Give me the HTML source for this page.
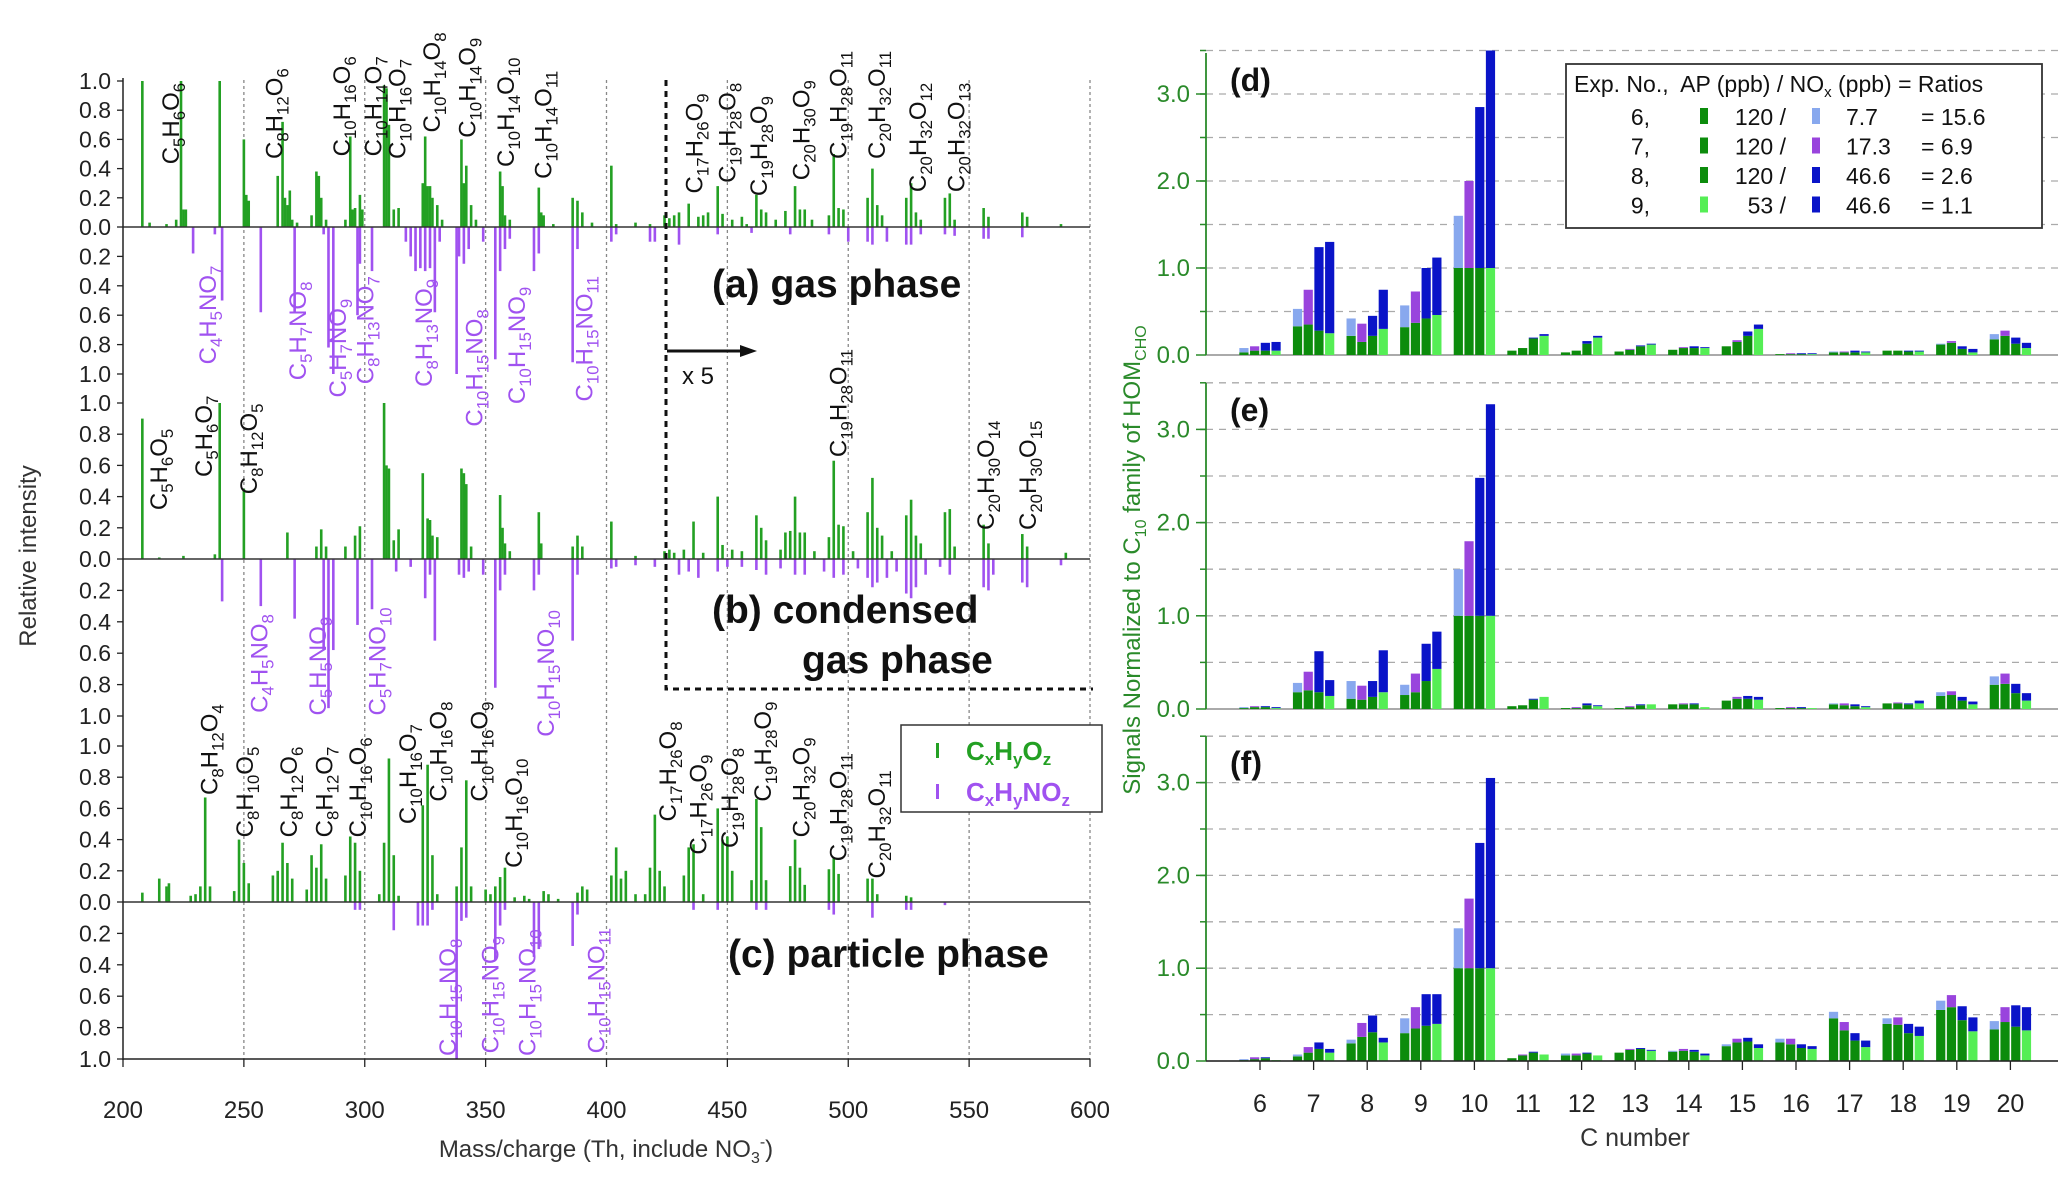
<!DOCTYPE html>
<html><head><meta charset="utf-8"><style>
html,body{margin:0;padding:0;background:#fff;}
svg{display:block;font-family:"Liberation Sans",sans-serif;}
</style></head><body>
<svg id="chart" width="2067" height="1180" viewBox="0 0 2067 1180" xmlns="http://www.w3.org/2000/svg">
<g id="left"></g>
<g id="right"></g>
</svg>
<script>
// ---------- LEFT CHART DATA ----------
const aCHOmz=[208,211,218,222,224,225,226,240,250,251,252,264,266,267,268,269,270,272,278,280,281,282,284,292,294,295,296,298,299,308,309,310,312,314,324,325,326,327,328,330,332,340,341,342,344,346,356,357,358,360,372,373,374,378,386,388,390,394,402,404,412,418,424,426,428,430,434,438,440,442,446,448,452,456,458,462,464,466,470,474,478,480,482,485,492,494,496,498,508,510,512,514,524,526,528,530,540,542,544,556,558,572,574,588];
const aCHOval=[1.0,0.03,0.02,0.05,1.0,0.12,0.12,1.0,0.6,0.22,0.18,0.35,0.72,0.2,0.15,0.25,0.05,0.03,0.08,0.38,0.35,0.2,0.05,0.05,0.62,0.12,0.13,0.22,0.12,0.97,0.95,0.7,0.12,0.13,0.3,0.62,0.28,0.28,0.2,0.15,0.05,0.6,0.3,0.42,0.15,0.05,0.38,0.28,0.08,0.05,0.27,0.1,0.08,0.02,0.2,0.18,0.1,0.03,0.42,0.02,0.03,0.02,0.08,0.06,0.08,0.1,0.16,0.07,0.08,0.1,0.28,0.09,0.05,0.07,0.02,0.22,0.12,0.1,0.05,0.11,0.28,0.12,0.12,0.05,0.08,0.5,0.13,0.12,0.2,0.4,0.15,0.08,0.2,0.3,0.1,0.05,0.2,0.23,0.05,0.13,0.07,0.1,0.07,0.02];
const aCHONmz=[229,238,241,257,271,283,285,287,297,298,303,317,319,321,323,325,327,329,331,338,339,341,343,349,354,356,358,360,370,372,386,388,402,404,418,420,430,446,460,476,492,500,508,510,516,524,526,530,540,544,556,558,572];
const aCHONval=[0.18,0.05,0.5,0.58,0.58,0.05,0.82,1.0,0.6,0.25,0.3,0.1,0.2,0.3,0.28,0.3,0.28,0.58,0.1,1.0,0.2,0.25,0.15,0.1,0.9,0.3,0.15,0.08,0.3,0.18,0.92,0.15,0.1,0.05,0.1,0.1,0.12,0.05,0.04,0.05,0.05,0.1,0.1,0.12,0.1,0.12,0.12,0.05,0.05,0.06,0.08,0.08,0.07];
const bCHOmz=[208,215,225,238,240,250,268,280,282,284,292,296,298,308,309,310,312,314,324,326,327,328,330,340,341,342,344,356,357,358,360,372,373,386,388,390,402,412,424,426,428,432,436,440,446,448,452,456,462,464,466,472,474,476,478,480,482,486,492,494,496,498,502,508,510,512,514,518,524,526,528,530,540,542,544,556,558,572,574,590];
const bCHOval=[0.9,0.01,0.02,0.03,1.0,0.45,0.17,0.08,0.19,0.08,0.08,0.15,0.21,1.0,0.6,0.58,0.12,0.19,0.55,0.26,0.25,0.15,0.14,0.58,0.55,0.48,0.08,0.41,0.2,0.1,0.05,0.3,0.1,0.08,0.15,0.08,0.24,0.02,0.05,0.06,0.04,0.06,0.24,0.04,0.4,0.09,0.06,0.05,0.28,0.2,0.12,0.06,0.17,0.18,0.4,0.17,0.17,0.05,0.14,0.63,0.22,0.21,0.05,0.3,0.52,0.2,0.15,0.05,0.28,0.38,0.15,0.1,0.3,0.32,0.08,0.22,0.1,0.16,0.08,0.04];
const bCHONmz=[241,257,271,283,285,287,297,303,313,319,325,327,329,339,341,343,349,354,356,358,370,372,386,388,402,404,412,420,430,434,438,446,450,456,462,466,472,478,482,490,494,498,504,508,510,512,516,520,524,526,528,532,538,542,556,558,560,572,574,588];
const bCHONval=[0.27,0.3,0.38,0.58,0.95,0.58,0.42,0.32,0.08,0.05,0.25,0.1,0.52,0.1,0.12,0.08,0.1,0.82,0.2,0.1,0.2,0.1,0.52,0.1,0.06,0.05,0.04,0.05,0.1,0.08,0.12,0.08,0.05,0.05,0.07,0.1,0.06,0.1,0.1,0.08,0.12,0.1,0.06,0.12,0.18,0.15,0.12,0.08,0.22,0.25,0.18,0.1,0.05,0.1,0.18,0.2,0.1,0.15,0.18,0.04];
const cCHOmz=[208,215,218,219,228,230,232,234,236,246,248,250,252,262,264,266,268,270,276,278,280,282,284,292,294,296,298,306,308,310,312,314,324,326,328,330,338,340,342,344,350,352,354,356,358,362,366,368,374,376,380,388,390,392,402,404,406,408,412,416,418,420,422,424,432,434,436,440,446,448,450,452,460,462,464,466,476,478,480,482,492,494,496,508,510,512,524,526];
const cCHOval=[0.06,0.15,0.1,0.12,0.04,0.05,0.1,0.67,0.1,0.07,0.4,0.25,0.12,0.17,0.2,0.38,0.25,0.15,0.08,0.3,0.22,0.37,0.15,0.17,0.42,0.38,0.2,0.05,0.38,0.92,0.3,0.04,0.62,0.88,0.3,0.05,0.1,0.35,0.78,0.1,0.08,0.05,0.1,0.16,0.22,0.03,0.04,0.02,0.07,0.05,0.02,0.06,0.1,0.08,0.17,0.35,0.15,0.2,0.05,0.05,0.22,0.56,0.2,0.1,0.17,0.35,0.37,0.05,0.6,0.4,0.42,0.2,0.14,0.66,0.48,0.14,0.23,0.4,0.22,0.11,0.21,0.28,0.18,0.15,0.15,0.05,0.04,0.03];
const cCHONmz=[296,298,312,322,324,326,328,338,340,342,354,356,358,370,372,386,388,436,446,462,466,492,494,510,524,526,540];
const cCHONval=[0.05,0.05,0.18,0.15,0.15,0.15,0.05,1.0,0.12,0.1,0.37,0.15,0.05,0.35,0.3,0.28,0.08,0.05,0.05,0.05,0.05,0.05,0.08,0.1,0.05,0.05,0.02];
const xTicks=[200,250,300,350,400,450,500,550,600];
const yTicks=[0,0.2,0.4,0.6,0.8,1.0];

// ---------- RIGHT CHART DATA ----------
const cNumbers=[6,7,8,9,10,11,12,13,14,15,16,17,18,19,20];
const dG6=[.03,.33,.22,.32,1,.05,.03,.04,.06,.1,.01,.03,.05,.12,.18];
const dT6=[.08,.53,.42,.57,1.6,.05,.03,.04,.06,.1,.01,.04,.05,.13,.24];
const dG7=[.05,.35,.15,.37,1,.08,.05,.06,.08,.15,.01,.03,.05,.14,.22];
const dT7=[.1,.75,.36,.73,2.0,.08,.05,.07,.09,.17,.02,.04,.05,.16,.28];
const dG8=[.05,.28,.22,.42,1,.19,.13,.1,.08,.22,.01,.03,.04,.07,.13];
const dT8=[.14,1.24,.45,1.0,2.85,.2,.16,.11,.1,.27,.02,.05,.05,.1,.2];
const dG9=[.05,.25,.3,.46,1,.22,.2,.12,.08,.3,.01,.03,.04,.03,.08];
const dT9=[.15,1.3,.75,1.12,3.5,.24,.22,.13,.09,.35,.02,.04,.05,.07,.14];
const eG6=[.01,.18,.11,.15,1,.03,.01,.01,.05,.09,.01,.05,.06,.14,.26];
const eT6=[.02,.28,.3,.26,1.5,.03,.01,.01,.05,.09,.01,.06,.06,.18,.35];
const eG7=[.02,.2,.1,.18,1,.04,.01,.02,.05,.11,.01,.04,.06,.15,.27];
const eT7=[.03,.4,.25,.38,1.8,.04,.02,.03,.06,.13,.02,.06,.07,.19,.38];
const eG8=[.02,.18,.13,.3,1,.1,.04,.04,.05,.11,.01,.03,.05,.09,.17];
const eT8=[.03,.62,.3,.7,2.48,.11,.06,.05,.06,.14,.02,.05,.06,.13,.27];
const eG9=[.01,.14,.18,.43,1,.13,.03,.05,.02,.1,.01,.02,.06,.05,.09];
const eT9=[.02,.31,.63,.83,3.27,.13,.04,.05,.02,.13,.01,.03,.09,.08,.17];
const fG6=[.01,.05,.19,.3,1,.03,.06,.09,.1,.16,.2,.46,.4,.55,.34];
const fT6=[.02,.07,.23,.46,1.43,.03,.08,.09,.11,.18,.24,.53,.46,.65,.43];
const fG7=[.02,.09,.26,.35,1,.06,.06,.12,.11,.2,.18,.33,.39,.58,.42];
const fT7=[.04,.15,.41,.58,1.75,.07,.08,.13,.13,.24,.24,.42,.47,.71,.58];
const fG8=[.03,.13,.31,.38,1,.09,.08,.13,.1,.21,.14,.22,.3,.44,.37];
const fT8=[.04,.2,.49,.72,2.35,.1,.09,.14,.12,.25,.18,.3,.4,.59,.6];
const fG9=[.01,.09,.2,.4,1,.07,.06,.11,.06,.14,.13,.15,.27,.32,.33];
const fT9=[.01,.13,.25,.72,3.05,.07,.06,.12,.08,.18,.16,.22,.37,.47,.58];
const rTicks=[0,1,2,3];

const NS="http://www.w3.org/2000/svg";
function mk(parent,tag,attrs){const e=document.createElementNS(NS,tag);for(const k in attrs)e.setAttribute(k,attrs[k]);parent.appendChild(e);return e;}
const L=document.getElementById('left'), R=document.getElementById('right');
const GREEN="#23a023", PURPLE="#a052f0";
const X=m=>123+(m-200)*2.4175;
const panels=[{y0:227,up:146,dn:147,cho:[aCHOmz,aCHOval],chon:[aCHONmz,aCHONval],n:'a'},
 {y0:559,up:156,dn:157,cho:[bCHOmz,bCHOval],chon:[bCHONmz,bCHONval],n:'b'},
 {y0:902,up:156,dn:157,cho:[cCHOmz,cCHOval],chon:[cCHONmz,cCHONval],n:'c'}];
xTicks.forEach(t=>{if(t===200)return;const l=mk(L,'line',{x1:X(t),x2:X(t),y1:80,y2:1059,stroke:'#888','stroke-width':1.3,'stroke-dasharray':'3,3'});

});
panels.forEach(p=>{
 const g=mk(L,'g',{});
 
 
 p.cho[0].forEach((m,i)=>{const v=p.cho[1][i];const r=mk(g,'rect',{x:X(m)-1.3,y:p.y0-v*p.up,width:2.6,height:v*p.up,fill:GREEN});
  
  });
 p.chon[0].forEach((m,i)=>{const v=p.chon[1][i];const r=mk(g,'rect',{x:X(m)-1.3,y:p.y0,width:2.6,height:v*p.dn,fill:PURPLE});
  
  });
 mk(g,'line',{x1:123,x2:1090,y1:p.y0,y2:p.y0,stroke:'#333','stroke-width':1.5});
 yTicks.forEach(t=>{
  [[p.y0-t*p.up,1],[p.y0+t*p.dn,t>0]].forEach(([yy,show])=>{ if(!show)return;
   mk(g,'line',{x1:117,x2:123,y1:yy,y2:yy,stroke:'#222','stroke-width':1.3});
   const tx=mk(g,'text',{x:111,y:yy+8,'text-anchor':'end','font-size':23,fill:'#222'});tx.textContent=t.toFixed(1);
   
   
  });
 });
});
mk(L,'line',{x1:123,x2:123,y1:78,y2:1060,stroke:'#222','stroke-width':1.5});
mk(L,'line',{x1:123,x2:1090,y1:1059,y2:1059,stroke:'#222','stroke-width':1.5});
xTicks.forEach(t=>{mk(L,'line',{x1:X(t),x2:X(t),y1:1059,y2:1067,stroke:'#222','stroke-width':1.3});
 const tx=mk(L,'text',{x:X(t),y:1118,'text-anchor':'middle','font-size':24,fill:'#222'});tx.textContent=t;
 
 });
let xt=mk(L,'text',{x:606,y:1157,'text-anchor':'middle','font-size':24,fill:'#333'});
xt.innerHTML='Mass/charge (Th, include NO<tspan font-size="16" dy="6">3</tspan><tspan font-size="16" dy="-16">-</tspan><tspan dy="10">)</tspan>';


let yt=mk(L,'text',{x:0,y:0,transform:'translate(36,556) rotate(-90)','text-anchor':'middle','font-size':24,fill:'#333'});yt.textContent='Relative intensity';



function formula(parent,str,x,y,color,fs){
 const t=mk(parent,'text',{x:0,y:0,transform:`translate(${x},${y}) rotate(-90)`,'font-size':fs,fill:color});
 const parts=str.match(/[A-Za-z]+|\d+/g);let sub=false;
 parts.forEach(pp=>{const isNum=/\d/.test(pp);const ts=mk(t,'tspan',{});
  if(isNum&&!sub){ts.setAttribute('dy',6);ts.setAttribute('font-size',fs*0.7);sub=true;}
  else if(!isNum&&sub){ts.setAttribute('dy',-6);sub=false;}
  else if(isNum){ts.setAttribute('font-size',fs*0.7);}
  ts.textContent=pp;});
 
 
}
const S=1.325;
const blackLabels=[['C5H6O6',129,124],['C8H12O6',207,120],['C10H16O6',258,118],['C10H14O7',282,118],['C10H16O7',300,120],['C10H14O8',326,100],['C10H14O9',353,104],['C10H14O10',382,126],['C10H14O11',410,135],['C17H26O9',524,146],['C19H28O8',549,138],['C19H28O9',573,148],['C20H30O9',605,136],['C19H28O11',633,120],['C20H32O11',662,120],['C20H32O12',693,145],['C20H32O13',722,145],
['C5H6O5',120,385],['C5H6O7',154,360],['C8H12O5',188,373],['C19H28O11',633,345],['C20H30O14',744,400],['C20H30O15',776,400],
['C8H12O4',158,600],['C8H10O5',185,632],['C8H12O6',218,632],['C8H12O7',245,632],['C10H16O6',270,632],['C10H16O7',308,622],['C10H16O8',331,605],['C10H16O9',362,605],['C10H16O10',388,655],['C17H26O8',504,620],['C17H26O9',527,645],['C19H28O8',551,640],['C19H28O9',576,605],['C20H32O9',605,632],['C19H28O11',633,650],['C20H32O11',662,663]];
const purpleLabels=[['C4H5NO7',157,275],['C5H7NO8',225,287],['C5H7NO9',255,300],['C8H13NO7',276,290],['C8H13NO9',320,292],['C10H15NO8',358,322],['C10H15NO9',390,305],['C10H15NO11',441,303],
['C4H5NO8',196,538],['C5H5NO9',240,540],['C5H7NO10',285,540],['C10H15NO10',412,556],
['C10H15NO8',338,797],['C10H15NO9',370,795],['C10H15NO10',398,797],['C10H15NO11',450,795]];
blackLabels.forEach(l=>formula(L,l[0],l[1]*S+8,l[2]*S,'#111',24));
purpleLabels.forEach(l=>formula(L,l[0],l[1]*S+8,l[2]*S,PURPLE,24));
function txt(parent,s,x,y,attrs,name){const t=mk(parent,'text',Object.assign({x:x,y:y},attrs));t.textContent=s;
 
 return t;}
const bold={'font-size':39,'font-weight':'bold',fill:'#111'};
txt(L,'(a) gas phase',712,297,bold,'panel-a-title');
txt(L,'(b) condensed',712,623,bold,'panel-b-title');
txt(L,'gas phase',802,673,bold,'panel-b-title-line2');
txt(L,'(c) particle phase',728,967,bold,'panel-c-title');
txt(L,'x 5',682,384,{'font-size':24,fill:'#111'},'scale-note');
mk(L,'line',{x1:667,x2:740,y1:351,y2:351,stroke:'#111','stroke-width':3});
mk(L,'polygon',{points:'740,345 757,351 740,357',fill:'#111'});
mk(L,'polyline',{points:'666,80 666,689 1093,689',fill:'none',stroke:'#111','stroke-width':3,'stroke-dasharray':'6,5'});
const lg=mk(L,'g',{});


mk(lg,'rect',{x:901,y:725,width:201,height:87,fill:'#fff',stroke:'#333','stroke-width':1.5});
mk(lg,'rect',{x:936,y:743,width:3,height:15,fill:GREEN});
mk(lg,'rect',{x:936,y:784,width:3,height:15,fill:PURPLE});
let l1=mk(lg,'text',{x:966,y:760,'font-size':26,'font-weight':'bold',fill:GREEN});l1.innerHTML='C<tspan font-size="17" dy="5">x</tspan><tspan dy="-5">H</tspan><tspan font-size="17" dy="5">y</tspan><tspan dy="-5">O</tspan><tspan font-size="17" dy="5">z</tspan>';


let l2=mk(lg,'text',{x:966,y:801,'font-size':26,'font-weight':'bold',fill:PURPLE});l2.innerHTML='C<tspan font-size="17" dy="5">x</tspan><tspan dy="-5">H</tspan><tspan font-size="17" dy="5">y</tspan><tspan dy="-5">NO</tspan><tspan font-size="17" dy="5">z</tspan>';



// ---------- RIGHT ----------
const RG="#2a8a2a";
const XC=c=>1260+(c-6)*53.6;
const offs=[-0.3,-0.1,0.1,0.3];
const gcol=["#0c8c0c","#0c8c0c","#0c8c0c","#55ee55"];
const tcol=["#88a8ee","#9944dd","#0a14c8","#0a14c8"];
const rp=[{y0:355,u:87,top:53,n:'d',G:[dG6,dG7,dG8,dG9],T:[dT6,dT7,dT8,dT9]},
 {y0:709,u:93.2,top:383,n:'e',G:[eG6,eG7,eG8,eG9],T:[eT6,eT7,eT8,eT9]},
 {y0:1061,u:92.8,top:736,n:'f',G:[fG6,fG7,fG8,fG9],T:[fT6,fT7,fT8,fT9]}];
rp.forEach(p=>{
 const g=mk(R,'g',{});
 
 
 for(let v=0.5;v<=3.5;v+=0.5){const yy=p.y0-v*p.u;
  mk(g,'line',{x1:1206,x2:2058,y1:yy,y2:yy,stroke:'#aaa','stroke-width':1.3,'stroke-dasharray':'7,6'});
  mk(g,'line',{x1:1200,x2:1206,y1:yy,y2:yy,stroke:RG,'stroke-width':1.5});}
 mk(g,'line',{x1:1206,x2:2058,y1:p.y0,y2:p.y0,stroke:'#777','stroke-width':1.3});
 rTicks.forEach(t=>{const yy=p.y0-t*p.u;mk(g,'line',{x1:1196,x2:1206,y1:yy,y2:yy,stroke:RG,'stroke-width':1.5});
  txt(g,t.toFixed(1),1190,yy+8,{'text-anchor':'end','font-size':24,fill:RG},'y-tick-label');});
 mk(g,'line',{x1:1206,x2:1206,y1:p.top,y2:p.y0,stroke:RG,'stroke-width':1.8});
 cNumbers.forEach((c,ci)=>{
  for(let k=0;k<4;k++){
   const gv=p.G[k][ci], tv=p.T[k][ci];const xx=XC(c)+offs[k]*53.6-4.6;
   const r1=mk(g,'rect',{x:xx,y:p.y0-gv*p.u,width:9.2,height:gv*p.u,fill:gcol[k]});
   
   
   if(tv>gv){const r2=mk(g,'rect',{x:xx,y:p.y0-tv*p.u,width:9.2,height:(tv-gv)*p.u,fill:tcol[k]});
    
    }
  }
 });
 txt(g,'('+p.n+')',1230,p.top+38,{'font-size':32,'font-weight':'bold',fill:'#111'},'panel-'+p.n+'-label');
});
mk(R,'line',{x1:1206,x2:2058,y1:1061,y2:1061,stroke:'#222','stroke-width':1.5});
cNumbers.forEach(c=>{mk(R,'line',{x1:XC(c),x2:XC(c),y1:1061,y2:1070,stroke:'#222','stroke-width':1.3});
 txt(R,String(c),XC(c),1112,{'text-anchor':'middle','font-size':25,fill:'#222'},'x-tick-label');});
txt(R,'C number',1635,1146,{'text-anchor':'middle','font-size':25,fill:'#333'},'x-axis-title');
let ry=mk(R,'text',{x:0,y:0,transform:'translate(1140,560) rotate(-90)','text-anchor':'middle','font-size':24,fill:RG});
ry.innerHTML='Signals Normalized to C<tspan font-size="16" dy="6">10</tspan><tspan dy="-6"> family of HOM</tspan><tspan font-size="16" dy="6">CHO</tspan>';


const rl=mk(R,'g',{});


mk(rl,'rect',{x:1566,y:64,width:476,height:164,fill:'#fff',stroke:'#333','stroke-width':1.8});
let hd=mk(rl,'text',{x:1574,y:92,'font-size':23,fill:'#111'});hd.innerHTML='Exp. No.,&#160; AP (ppb) / NO<tspan font-size="15" dy="5">x</tspan><tspan dy="-5"> (ppb) = Ratios</tspan>';


const expNo=['6,','7,','8,','9,'], apv=['120 /','120 /','120 /','53  /'], nox=['7.7','17.3','46.6','46.6'], ratio=['= 15.6','= 6.9','= 2.6','= 1.1'];
for(let i=0;i<4;i++){const yy=125+i*29.5;
 txt(rl,expNo[i],1650,yy,{'text-anchor':'end','font-size':23,fill:'#111'},'legend-exp-'+(i+6));
 mk(rl,'rect',{x:1700,y:yy-17,width:8,height:16,fill:gcol[i]});
 txt(rl,apv[i],1786,yy,{'text-anchor':'end','font-size':23,fill:'#111','xml:space':'preserve'},'legend-ap');
 mk(rl,'rect',{x:1812,y:yy-17,width:8,height:16,fill:tcol[i]});
 txt(rl,nox[i],1846,yy,{'font-size':23,fill:'#111'},'legend-nox');
 txt(rl,ratio[i],1921,yy,{'font-size':23,fill:'#111'},'legend-ratio');}
</script>
</body></html>
